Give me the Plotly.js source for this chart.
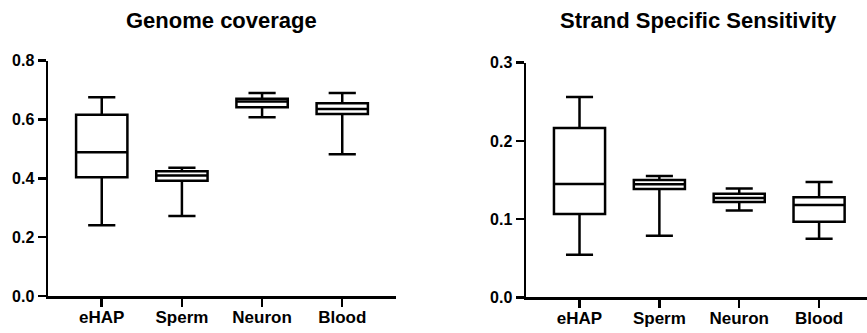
<!DOCTYPE html>
<html>
<head>
<meta charset="utf-8">
<script src="https://cdn.plot.ly/plotly-3.0.1.min.js"></script>
<style>html,body{margin:0;padding:0;background:#fff}#chart{width:867px;height:333px}</style>
</head>
<body>
<div id="chart"></div>
<script>
// Categories
const categories = ["eHAP", "Sperm", "Neuron", "Blood"];

// Genome coverage (box statistics)
const covLower  = [0.241, 0.272, 0.608, 0.482];
const covQ1     = [0.404, 0.392, 0.642, 0.619];
const covMedian = [0.489, 0.410, 0.661, 0.636];
const covQ3     = [0.616, 0.424, 0.671, 0.655];
const covUpper  = [0.676, 0.436, 0.690, 0.690];

// Strand specific sensitivity
const sssLower  = [0.0545, 0.0788, 0.111, 0.075];
const sssQ1     = [0.1065, 0.1385, 0.122, 0.0967];
const sssMedian = [0.145, 0.1445, 0.127, 0.118];
const sssQ3     = [0.2165, 0.150, 0.1325, 0.128];
const sssUpper  = [0.256, 0.155, 0.139, 0.1475];

// Tick labels
const covTicks = [0, 0.2, 0.4, 0.6, 0.8];
const covTickText = ["0.0", "0.2", "0.4", "0.6", "0.8"];
const sssTicks = [0, 0.1, 0.2, 0.3];
const sssTickText = ["0.0", "0.1", "0.2", "0.3"];

const FONT = "Liberation Sans, Arial, Helvetica, sans-serif";
const LW = 2.5;

function boxTrace(lo, q1, med, q3, hi, xa, ya) {
  return {
    type: "box",
    x: categories,
    lowerfence: lo, q1: q1, median: med, q3: q3, upperfence: hi,
    xaxis: xa, yaxis: ya,
    width: 0.64,
    whiskerwidth: 0.53,
    fillcolor: "#ffffff",
    line: {color: "#000000", width: LW},
    boxpoints: false,
    hoverinfo: "skip",
    showlegend: false
  };
}

const data = [
  boxTrace(covLower, covQ1, covMedian, covQ3, covUpper, "x", "y"),
  boxTrace(sssLower, sssQ1, sssMedian, sssQ3, sssUpper, "x2", "y2")
];

const xCommon = {
  type: "category",
  showline: true, linecolor: "#000", linewidth: LW,
  ticks: "outside", ticklen: 8, tickwidth: LW, tickcolor: "#000",
  showgrid: false, zeroline: false,
  tickfont: {family: FONT, size: 17, color: "#000", weight: "bold"},
  ticklabelstandoff: -4,
  fixedrange: true
};
const yCommon = {
  showline: true, linecolor: "#000", linewidth: LW,
  ticks: "outside", ticklen: 8, tickwidth: LW, tickcolor: "#000",
  showgrid: false, zeroline: false,
  tickfont: {family: FONT, size: 16, color: "#000", weight: "bold"},
  tickmode: "array",
  fixedrange: true
};

const layout = {
  width: 867, height: 333,
  margin: {l: 0, r: 0, t: 0, b: 0},
  paper_bgcolor: "#fff", plot_bgcolor: "#fff",
  showlegend: false,
  xaxis: Object.assign({}, xCommon, {domain: [0.0554, 0.4567], range: [-0.67, 3.67], anchor: "y"}),
  yaxis: Object.assign({}, yCommon, {domain: [0.111, 0.8177], range: [0, 0.8], tickvals: covTicks, ticktext: covTickText, anchor: "x"}),
  xaxis2: Object.assign({}, xCommon, {domain: [0.6067, 1.0], range: [-0.67, 3.6], anchor: "y2"}),
  yaxis2: Object.assign({}, yCommon, {domain: [0.1072, 0.8117], range: [0, 0.3], tickvals: sssTicks, ticktext: sssTickText, anchor: "x2"}),
  annotations: [
    {text: "Genome coverage", xref: "paper", yref: "paper", x: 0.256, y: 1, yshift: -6,
     xanchor: "center", yanchor: "top", showarrow: false,
     font: {family: FONT, size: 22, color: "#000", weight: "bold"}},
    {text: "Strand Specific Sensitivity", xref: "paper", yref: "paper", x: 0.806, y: 1, yshift: -6,
     xanchor: "center", yanchor: "top", showarrow: false,
     font: {family: FONT, size: 22, color: "#000", weight: "bold"}}
  ]
};

Plotly.newPlot("chart", data, layout, {staticPlot: true, displayModeBar: false});
</script>
</body>
</html>
